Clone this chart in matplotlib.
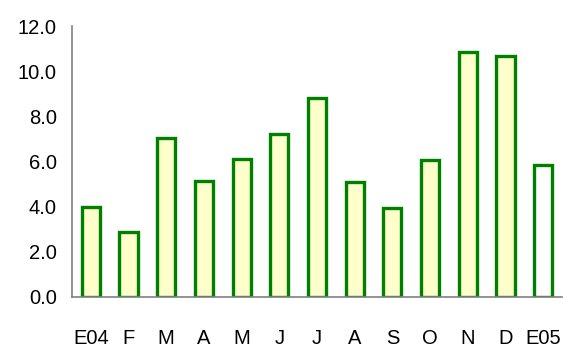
import matplotlib.pyplot as plt
import numpy as np

plt.rcParams['font.family'] = ['Liberation Sans', 'DejaVu Sans']

months = ["E04", "F", "M", "A", "M", "J", "J", "A", "S", "O", "N", "D", "E05"]
values = [4.0, 2.9, 7.05, 5.15, 6.1, 7.2, 8.8, 5.1, 3.95, 6.05, 10.85, 10.65, 5.85]
fills = ["#FFFFCC"] * 12 + ["#FFFFFF"]

fig = plt.figure(figsize=(5.63, 3.49), dpi=100)
ax = fig.add_axes([72 / 563, (349 - 297) / 349, 490 / 563, 271 / 349])

x = np.arange(len(months))
ax.bar(x, values, width=0.48, color=fills, edgecolor="#008000", linewidth=2.4)

ax.set_xlim(-0.5, len(months) - 0.5)
ax.set_ylim(0, 12)
ax.set_yticks(np.arange(0, 12.1, 2))
ax.set_yticklabels(["%.1f" % v for v in np.arange(0, 12.1, 2)])
ax.set_xticks(x)
ax.set_xticklabels(months)
ax.tick_params(axis="both", length=0, colors="black")
ax.tick_params(axis="x", pad=23, labelsize=14.5)
ax.tick_params(axis="y", pad=11, labelsize=14.5)

for side in ("top", "right"):
    ax.spines[side].set_visible(False)
for side in ("left", "bottom"):
    ax.spines[side].set_color("#808080")
    ax.spines[side].set_linewidth(1.2)

fig.savefig("out.png", dpi=100)
